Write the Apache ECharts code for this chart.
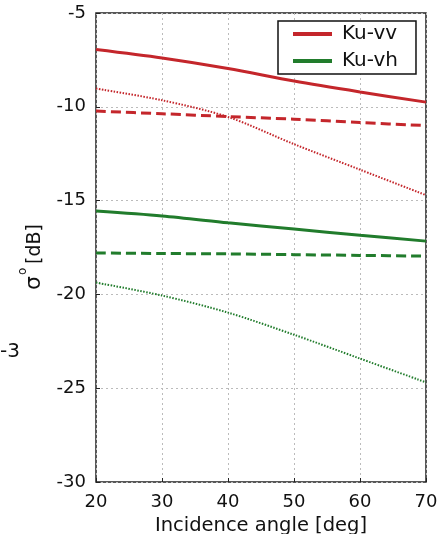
<!DOCTYPE html>
<html>
<head>
    <meta charset="utf-8">
    <script src="https://cdn.jsdelivr.net/npm/echarts@6/dist/echarts.min.js"></script>
    <style>
        html, body { margin: 0; padding: 0; background: #fff; }
        #chart { width: 439px; height: 534px; }
    </style>
</head>
<body>
    <div id="chart"></div>
    <script>
        // incidence angle (deg)
        var angles = [20, 30, 40, 50, 60, 70];

        // Ku-vv curves
        var vvSolid  = [-6.95, -7.40, -7.96, -8.63, -9.21, -9.75];
        var vvDashed = [-10.23, -10.37, -10.52, -10.66, -10.84, -11.00];
        var vvDotted = [-9.03, -9.65, -10.54, -11.99, -13.35, -14.71];

        // Ku-vh curves
        var vhSolid  = [-15.56, -15.82, -16.18, -16.52, -16.85, -17.16];
        var vhDashed = [-17.79, -17.82, -17.84, -17.88, -17.92, -17.96];
        var vhDotted = [-19.37, -20.06, -20.97, -22.15, -23.42, -24.69];

        var xTicks = [20, 30, 40, 50, 60, 70];
        var yTicks = [-30, -25, -20, -15, -10, -5];

        var red = '#c4262b';
        var green = '#217c2c';

        function pairs(ys) {
            return angles.map(function (a, i) { return [a, ys[i]]; });
        }

        function line(name, ys, color, type, width) {
            return {
                name: name,
                type: 'line',
                data: pairs(ys),
                smooth: 0.3,
                symbol: 'none',
                lineStyle: { color: color, type: type, width: width },
                itemStyle: { color: color },
                z: 3
            };
        }

        var chart = echarts.init(document.getElementById('chart'));
        var font = 'DejaVu Sans';

        chart.setOption({
            animation: false,
            textStyle: { fontFamily: font },
            grid: {
                left: 96, right: 13, top: 13, bottom: 52,
                outerBoundsMode: 'none',
                show: true, borderColor: '#222', borderWidth: 1.5
            },
            legend: {
                data: ['Ku-vv', 'Ku-vh'],
                orient: 'vertical',
                left: 278, top: 21,
                padding: [3, 18, 3, 15],
                itemGap: 7,
                itemWidth: 39, itemHeight: 4,
                icon: 'rect',
                borderColor: '#111', borderWidth: 1.5,
                backgroundColor: '#fff',
                textStyle: { fontSize: 20, color: '#111', fontFamily: font, padding: [0, 0, 0, 5] }
            },
            xAxis: {
                type: 'value',
                min: 20, max: 70, interval: 10,
                name: 'Incidence angle [deg]',
                nameLocation: 'middle',
                nameGap: 27,
                nameTextStyle: { fontSize: 19.5, color: '#111', fontFamily: font },
                axisLine: { show: false },
                axisTick: { show: true, inside: true, length: 4, lineStyle: { color: '#222' } },
                axisLabel: {
                    fontSize: 18, color: '#111', margin: 11,
                    formatter: function (v) { return xTicks.indexOf(v) >= 0 ? String(v) : ''; }
                },
                splitLine: { show: true, lineStyle: { color: '#bbb', type: [2, 3], width: 1 } }
            },
            yAxis: {
                type: 'value',
                min: -30, max: -5, interval: 5,
                axisLine: { show: false },
                axisTick: { show: true, inside: true, length: 4, lineStyle: { color: '#222' } },
                axisLabel: {
                    fontSize: 18, color: '#111', margin: 10,
                    formatter: function (v) { return yTicks.indexOf(v) >= 0 ? String(v) : ''; }
                },
                splitLine: { show: true, lineStyle: { color: '#bbb', type: [2, 3], width: 1 } }
            },
            graphic: [{
                // y axis title, sigma with superscript o
                type: 'text',
                x: 31, y: 257,
                rotation: Math.PI / 2,
                style: {
                    text: '{a|σ}{b|o} {c|[dB]}',
                    align: 'center',
                    verticalAlign: 'middle',
                    fontFamily: font,
                    rich: {
                        a: { fontSize: 22, fill: '#111', lineHeight: 28, verticalAlign: 'bottom', fontFamily: font },
                        b: { fontSize: 12, fill: '#111', verticalAlign: 'top', padding: [0, 0, 12, 1], fontFamily: font },
                        c: { fontSize: 19, fill: '#111', lineHeight: 28, verticalAlign: 'bottom', fontFamily: font }
                    }
                }
            }, {
                type: 'text',
                left: 0, top: 342,
                style: { text: '-3', fontSize: 20, fill: '#111', fontFamily: font }
            }],
            series: [
                line('Ku-vv', vvSolid, red, 'solid', 3),
                line('vv-dashed', vvDashed, red, [10, 5], 3),
                line('vv-dotted', vvDotted, red, [1.5, 1.5], 2),
                line('Ku-vh', vhSolid, green, 'solid', 3),
                line('vh-dashed', vhDashed, green, [10, 5], 3),
                line('vh-dotted', vhDotted, green, [1.5, 1.5], 2)
            ]
        });
    </script>
</body>
</html>
